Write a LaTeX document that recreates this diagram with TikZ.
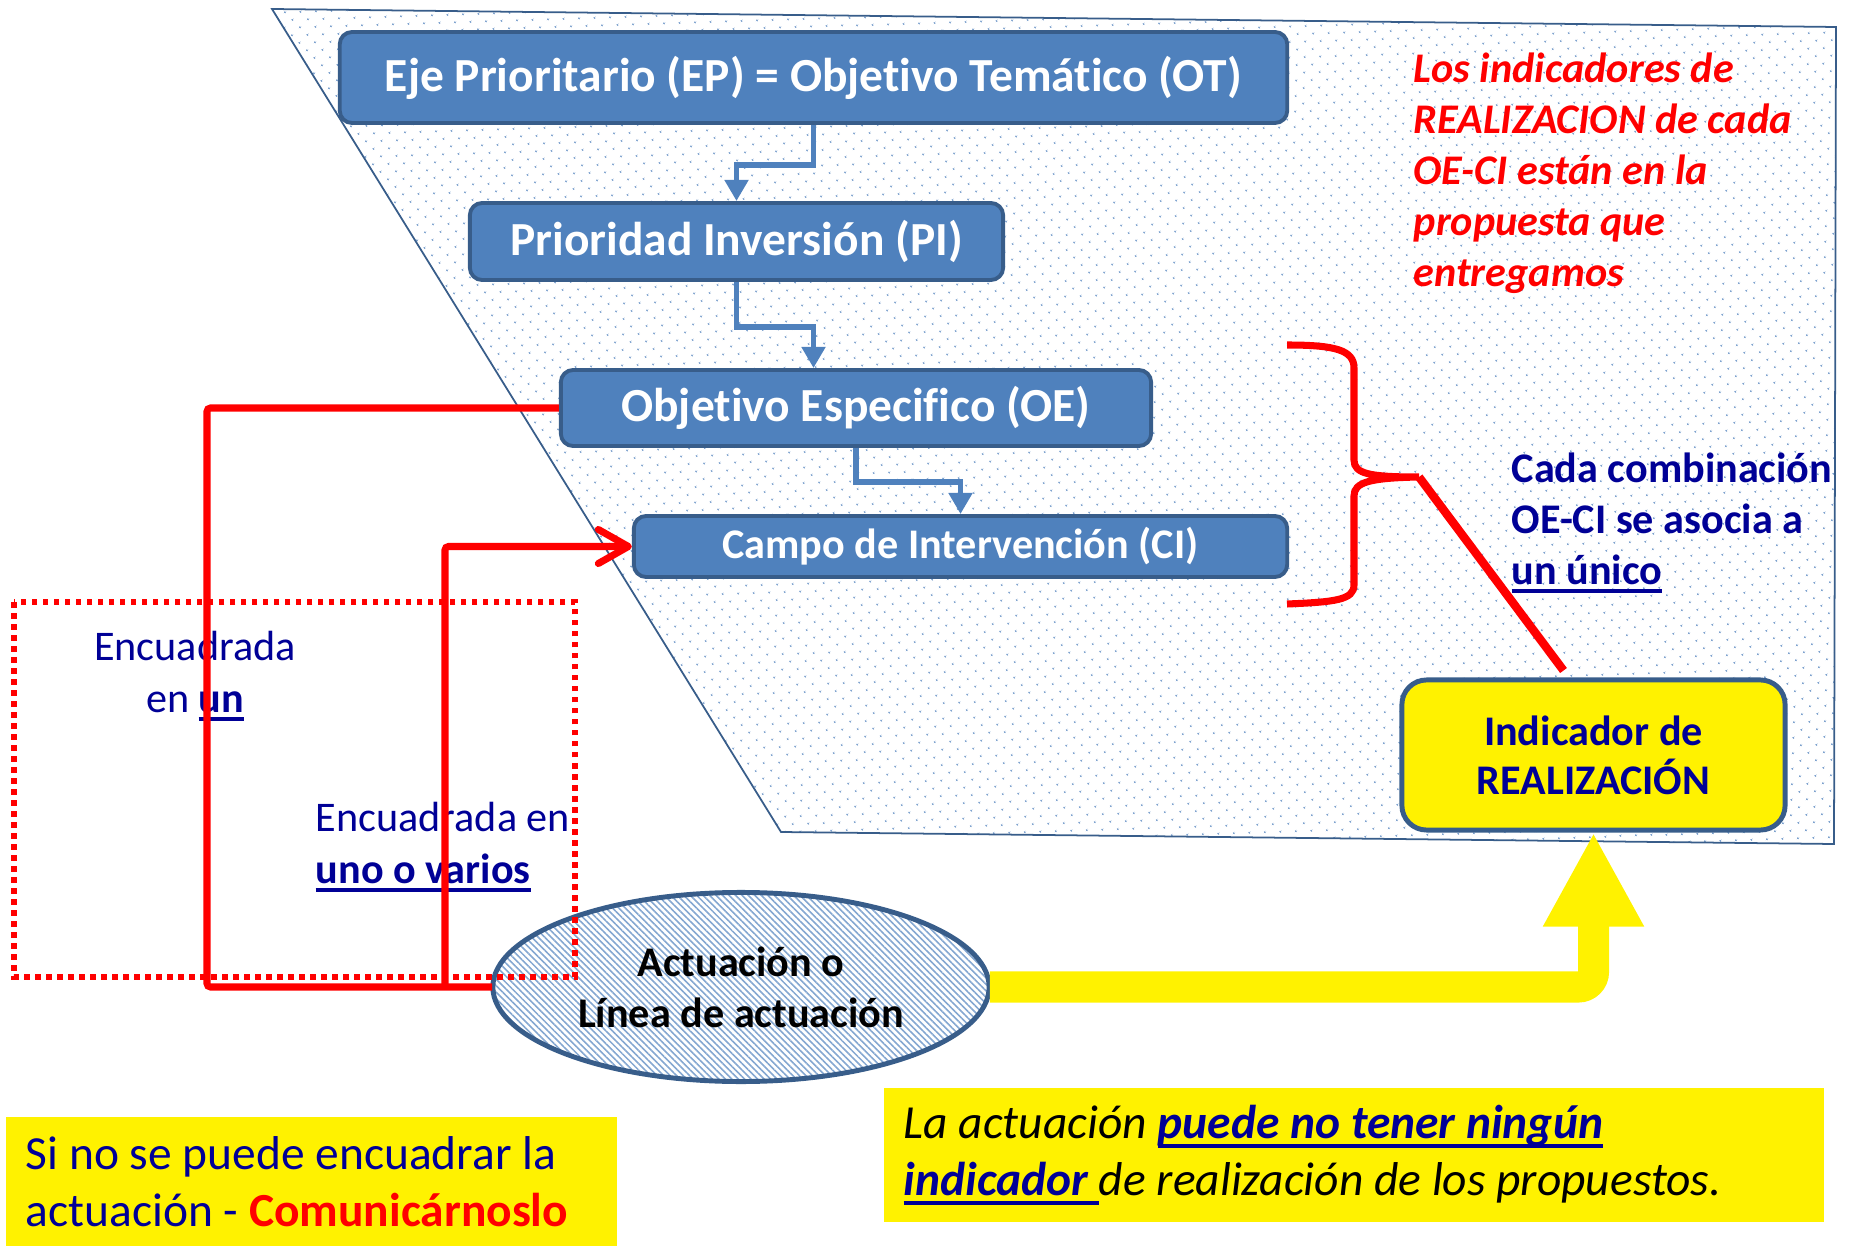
\documentclass[tikz,border=0pt]{standalone}
\usepackage{fontspec}
\setmainfont{Carlito}[Ligatures=NoCommon]
\usepackage{xcolor}
\usepackage{tikz}
\usetikzlibrary{arrows,positioning,shapes}
\usetikzlibrary{arrows.meta}
\usetikzlibrary{patterns.meta}
\usetikzlibrary{calc}

\definecolor{boxblue}{RGB}{79,129,189}
\definecolor{edgeblue}{RGB}{56,93,138}
\definecolor{inkblue}{RGB}{0,0,150}

\newcommand{\undl}[1]{\leavevmode\setbox0=\hbox{#1}\rlap{\rule[-0.2em]{\wd0}{0.085em}}\box0}

\begin{document}
\begin{tikzpicture}[x=0.01cm,y=-0.01cm,
  every node/.style={align=center,inner sep=0pt},
  level/.style={draw=edgeblue,line width=1.1pt,fill=boxblue,rounded corners=3.5pt,
    text=white,font=\bfseries\fontsize{13.5}{16}\selectfont},
  link/.style={boxblue,line width=1.7pt,-{Triangle[width=6.5pt,length=6pt]}},
  frame/.style={red,line width=2pt,rounded corners=1pt},
  remark/.style={text=inkblue,font=\fontsize{12}{14.8}\selectfont},
  notebox/.style={fill=yellow,inner xsep=0.2cm,align=flush left},
  hiway/.style={yellow,line width=0.31cm,rounded corners=0.15cm,
    -{Triangle[width=0.94cm,length=0.94cm]}}]

    \useasboundingbox (0,0) rectangle (1851,1246);

    % dotted area
    \draw[edgeblue,line width=0.5pt,
      pattern={Dots[radius=0.35pt,distance=3.07pt,angle=45]},pattern color=boxblue!75]
      (272,9) -- (1836,27) -- (1834,844) -- (781,832) -- cycle;

    \node[level,minimum width=9.47cm,minimum height=0.91cm] (ep) at (813.5,77.5)
      {Eje Prioritario (EP) = Objetivo Temático (OT)};
    \node[level,minimum width=5.33cm,minimum height=0.77cm] (pi) at (736.5,241.5)
      {Prioridad Inversión (PI)};
    \node[level,minimum width=5.9cm,minimum height=0.76cm] (oe) at (856,408)
      {Objetivo Especifico (OE)};
    \node[level,minimum width=6.53cm,minimum height=0.61cm,
      font=\bfseries\fontsize{12}{14}\selectfont] (ci) at (960.5,546.5)
      {Campo de Intervención (CI)};

    \draw[link] (ep.south) -- ++(0,40) -| (pi.north);
    \draw[link] (pi.south) -- ++(0,45) -| (oe.north -| ep.south);
    \draw[link] (oe.south) -- ++(0,34) -| (ci.north);

    \node[anchor=west,align=flush left,text=red,
      font=\bfseries\itshape\fontsize{12}{14.5}\selectfont] (rule) at (1413,173)
      {Los indicadores de\\REALIZACION de cada\\OE-CI están en la\\propuesta que\\entregamos};

    % brace over OE and CI
    \coordinate (tip) at (1419,477);
    \draw[red,line width=2pt] (1287,345) .. controls (1335,345) and (1354,350) .. (1354,368)
      -- (1354,460) .. controls (1354,474) and (1370,477) .. (tip)
      .. controls (1370,478) and (1354,482) .. (1354,496)
      -- (1354,585) .. controls (1354,600) and (1335,602) .. (1287,604);

    \node[draw=edgeblue,line width=1.4pt,fill=yellow,rounded corners=7pt,
      minimum width=3.83cm,minimum height=1.5cm,text=inkblue,
      font=\bfseries\fontsize{12}{14}\selectfont] (ind) at (1593.5,755)
      {Indicador de\\REALIZACIÓN};
    \draw[red,line width=2.4pt] (tip) -- ($(ind.north)+(-30,-7)$);

    \node[remark,anchor=west,align=flush left,font=\bfseries\fontsize{12}{14.5}\selectfont]
      (combo) at (1511,523) {Cada combinación\\OE-CI se asocia a\\\undl{un único}};

    \node[remark] (un) at (195,676) {Encuadrada\\en \undl{\bfseries un}};
    \node[remark,anchor=west,align=flush left] (varios) at (315,847)
      {Encuadrada en\\\undl{\bfseries uno o varios}};

    \node[ellipse,draw=edgeblue,line width=1.4pt,
      pattern={Lines[angle=-45,distance=1.3pt,line width=0.45pt]},pattern color=boxblue!70,
      minimum width=4.96cm,minimum height=1.89cm,
      font=\bfseries\fontsize{12}{14.5}\selectfont] (act) at (741,987)
      {Actuación o\\Línea de actuación};

    \draw[red,line width=0.055cm,dash pattern=on 0.055cm off 0.055cm] (14,602) rectangle (575,977);

    \draw[frame] (oe.west) -| (207,987) -- (act.west);
    \coordinate (fork) at (445,987);
    \draw[frame,-{Straight Barb[length=0.3cm,width=0.34cm,round]}] (fork) |- (ci.west);

    \draw[hiway] (act.east) -| (ind.south);

    \node[notebox,minimum height=1.29cm,text width=5.71cm,text=inkblue,
      font=\fontsize{13.5}{16.2}\selectfont] (warn) at (311.5,1181.5)
      {Si no se puede encuadrar la\\actuación - {\bfseries\color{red}Comunicárnoslo}};
    \node[notebox,minimum height=1.34cm,text width=9.0cm,
      font=\itshape\fontsize{13.5}{16.4}\selectfont] (none) at (1354,1155)
      {La actuación {\color{inkblue}\undl{\bfseries puede no tener ningún}}\\
       {\color{inkblue}\undl{\bfseries indicador }}de realización de los propuestos.};
\end{tikzpicture}
\end{document}
